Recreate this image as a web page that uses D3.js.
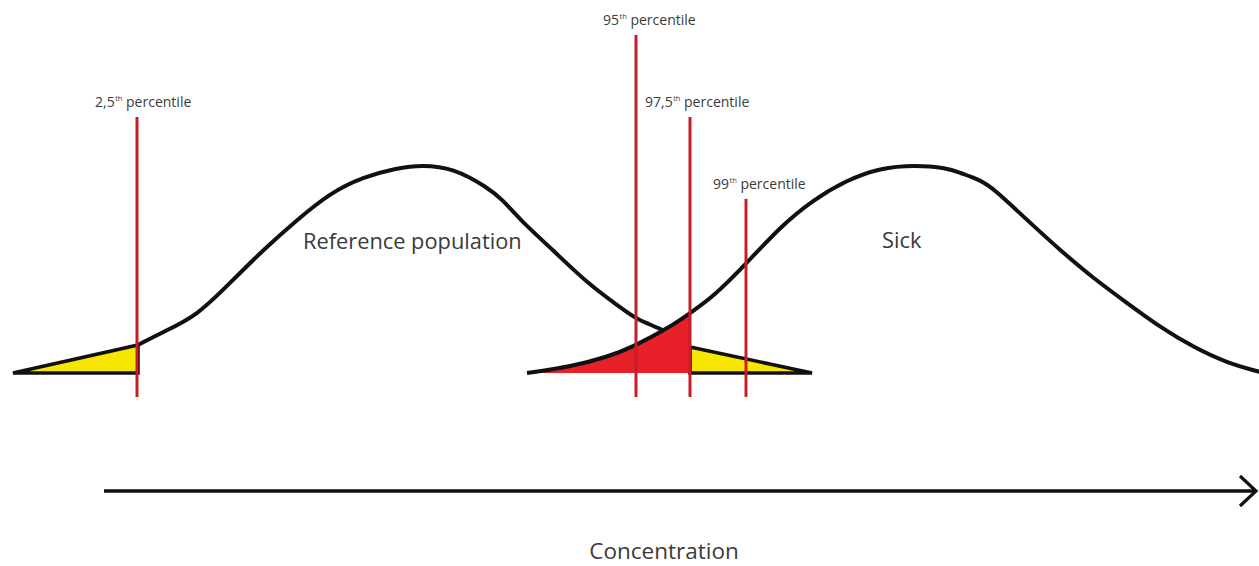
<!DOCTYPE html>
<html>
<head>
<meta charset="utf-8">
<script src="https://cdn.jsdelivr.net/npm/d3@7"></script>
<style>
  html, body { margin: 0; padding: 0; background: #fff; }
  svg { display: block; }
  text { font-family: "Open Sans", "Noto Sans", sans-serif; fill: #3a3a3a; }
</style>
</head>
<body>
<svg id="chart" width="1259" height="566"></svg>
<script>
// ---------- data (concentration in arbitrary units, density normalised to peak = 1) ----------
const refCurveX = [13.8, 16.3, 19.7, 23.0, 26.3, 29.7, 33.0, 36.3, 39.7, 42.2, 45.3, 48.7, 50.3, 52.0, 55.3, 58.7, 62.0, 63.7, 66.5, 69.0];
const refCurveY = [0.135, 0.197, 0.275, 0.433, 0.591, 0.736, 0.865, 0.942, 0.986, 1.0, 0.986, 0.894, 0.832, 0.736, 0.591, 0.433, 0.317, 0.255, 0.207, 0.125];
const refLowTail  = { start: 1.3, end: 13.8, height: 0.135 };   // below 2.5th percentile
const refHighTail = { start: 69.0, end: 81.2, height: 0.125 };  // above 97.5th percentile

const sickCurveX = [52.7, 57.0, 60.7, 63.3, 67.0, 69.0, 71.3, 74.7, 78.0, 81.3, 84.7, 88.0, 91.5, 94.7, 96.0, 98.0, 99.3, 102.7, 106.0, 109.3, 112.7, 116.0, 119.3, 122.7, 126.0];
const sickCurveY = [0.0, 0.029, 0.077, 0.125, 0.221, 0.288, 0.365, 0.529, 0.702, 0.832, 0.928, 0.986, 1.0, 0.986, 0.962, 0.928, 0.889, 0.736, 0.591, 0.457, 0.337, 0.221, 0.125, 0.048, 0.005];

const percentileNames  = ["2,5", "95", "97,5", "99"];
const percentileValues = [13.7, 63.6, 69.0, 74.6];
const percentileTops   = [1.231, 1.625, 1.231, 0.837];   // how high each marker reaches (density units)
const populationLabels = ["Reference population", "Sick"];
const axisLabel = "Concentration";

// ---------- layout ----------
const svg = d3.select("#chart");
const x = d3.scaleLinear().domain([0, 125.9]).range([0, 1259]);
const y = d3.scaleLinear().domain([0, 1]).range([373, 165]);

const RED_LINE = "#c41e2a";
const RED_FILL = "#e8202a";
const YELLOW   = "#f7e600";

const refPts  = refCurveX.map((v, i) => [v, refCurveY[i]]);
const sickPts = sickCurveX.map((v, i) => [v, sickCurveY[i]]);

const line = d3.line().x(d => x(d[0])).y(d => y(d[1])).curve(d3.curveBasis);
const area = d3.area().x(d => x(d[0])).y0(y(0)).y1(d => y(d[1])).curve(d3.curveBasis);

// reference curve
svg.append("path").attr("d", line(refPts))
  .attr("fill", "none").attr("stroke", "#111").attr("stroke-width", 4);

// tails of reference population (yellow triangles)
const poly = d3.line().x(d => x(d[0])).y(d => y(d[1]));
svg.append("path")
  .attr("d", poly([[refLowTail.start, 0], [refLowTail.end, refLowTail.height], [refLowTail.end, 0]]) + "Z")
  .attr("fill", YELLOW).attr("stroke", "#111").attr("stroke-width", 3.5).attr("stroke-linejoin", "miter");
svg.append("path")
  .attr("d", poly([[refHighTail.start, refHighTail.height], [refHighTail.end, 0], [refHighTail.start, 0]]) + "Z")
  .attr("fill", YELLOW).attr("stroke", "#111").attr("stroke-width", 3.5).attr("stroke-linejoin", "miter");

// red area: sick patients below the 97.5th percentile
const defs = svg.append("defs");
defs.append("clipPath").attr("id", "redClip").append("rect")
  .attr("x", x(sickCurveX[0]) - 2).attr("y", 0)
  .attr("width", x(percentileValues[2]) - x(sickCurveX[0]) + 2).attr("height", y(0) + 0.5);
svg.append("path").attr("d", area(sickPts)).attr("fill", RED_FILL).attr("clip-path", "url(#redClip)");

// sick curve
svg.append("path").attr("d", line(sickPts))
  .attr("fill", "none").attr("stroke", "#111").attr("stroke-width", 4);

// percentile markers
const labelOffsets = [-42, -33, -45, -33];
percentileValues.forEach((v, i) => {
  svg.append("line")
    .attr("x1", x(v)).attr("x2", x(v))
    .attr("y1", y(percentileTops[i])).attr("y2", y(-0.115))
    .attr("stroke", RED_LINE).attr("stroke-width", 3);
  const t = svg.append("text")
    .attr("x", x(v) + labelOffsets[i]).attr("y", y(percentileTops[i]) - 10)
    .attr("font-size", 14);
  t.append("tspan").text(percentileNames[i]);
  t.append("tspan").text("th").attr("font-size", 7.5).attr("dy", -6).attr("dx", 0.5);
  t.append("tspan").text(" percentile").attr("dy", 6);
});

// population labels
svg.append("text").attr("x", x(30.3)).attr("y", 249).attr("font-size", 21.8).text(populationLabels[0]);
svg.append("text").attr("x", x(88.2)).attr("y", 248).attr("font-size", 21.8).text(populationLabels[1]);

// concentration axis arrow
const axisStart = 10.4, axisEnd = 125.5;
svg.append("line")
  .attr("x1", x(axisStart)).attr("x2", x(axisEnd))
  .attr("y1", 491).attr("y2", 491)
  .attr("stroke", "#111").attr("stroke-width", 3.5);
svg.append("path")
  .attr("d", `M${x(axisEnd) - 15},476 L${x(axisEnd) + 1},491 L${x(axisEnd) - 15},506`)
  .attr("fill", "none").attr("stroke", "#111").attr("stroke-width", 3.2);

svg.append("text").attr("x", 664).attr("y", 559)
  .attr("text-anchor", "middle").attr("font-size", 22.5).text(axisLabel);
</script>
</body>
</html>
